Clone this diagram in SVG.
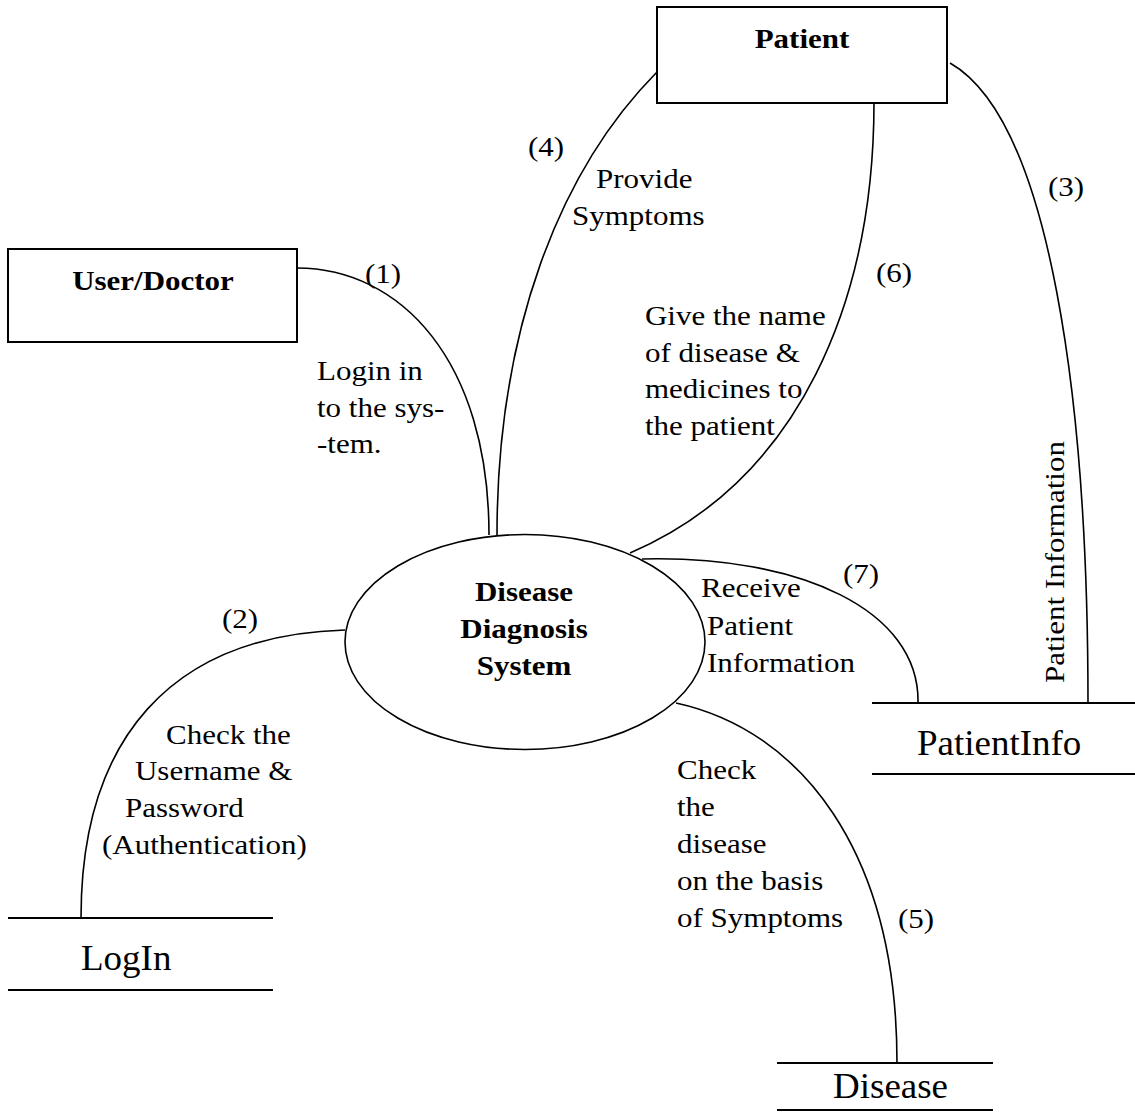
<svg xmlns="http://www.w3.org/2000/svg" width="1135" height="1112" viewBox="0 0 1135 1112">
<style>
text{font-family:"Liberation Serif","Times New Roman",serif;fill:#000}
.lbl{font-size:31px}
.bold{font-size:31px;font-weight:bold}
.store{font-size:37px}
.ent{fill:#fff;stroke:#000;stroke-width:2}
.proc{fill:#fff;stroke:#000;stroke-width:1.6}
.sl{stroke:#000;stroke-width:2}
.flow{fill:none;stroke:#000;stroke-width:1.6}
</style>
<rect width="1135" height="1112" fill="#fff"/>
<g id="connectors">
<path class="flow" d="M297,268 C400,268 489,360 489,535"/>
<path class="flow" d="M657,72 C560,170 497,330 497,535"/>
<path class="flow" d="M950,63 C1050,120 1088,400 1088,703"/>
<path class="flow" d="M874,102 C874,300 800,480 630,553"/>
<path class="flow" d="M642,559 C800,555 920,610 918,703"/>
<path class="flow" d="M345,630 C170,635 81,740 81,918"/>
<path class="flow" d="M676,703 C800,730 897,850 897,1063"/>
<text class="lbl" transform="translate(365 283) scale(1 0.89)">(1)</text>
<text class="lbl" transform="translate(317 380) scale(1 0.89)">Login in</text>
<text class="lbl" transform="translate(317 417) scale(1 0.89)">to the sys-</text>
<text class="lbl" transform="translate(317 453) scale(1 0.89)">-tem.</text>
<text class="lbl" transform="translate(528 156) scale(1 0.89)">(4)</text>
<text class="lbl" transform="translate(596 188) scale(1 0.89)">Provide</text>
<text class="lbl" transform="translate(572 225) scale(1 0.89)">Symptoms</text>
<text class="lbl" transform="translate(1048 196) scale(1 0.89)">(3)</text>
<text class="lbl" transform="translate(1064 562) rotate(-90) scale(1 0.89)" text-anchor="middle">Patient Information</text>
<text class="lbl" transform="translate(876 282) scale(1 0.89)">(6)</text>
<text class="lbl" transform="translate(645 325) scale(1 0.89)">Give the name</text>
<text class="lbl" transform="translate(645 362) scale(1 0.89)">of disease &amp;</text>
<text class="lbl" transform="translate(645 398) scale(1 0.89)">medicines to</text>
<text class="lbl" transform="translate(645 435) scale(1 0.89)">the patient</text>
<text class="lbl" transform="translate(843 583) scale(1 0.89)">(7)</text>
<text class="lbl" transform="translate(701 597) scale(1 0.89)">Receive</text>
<text class="lbl" transform="translate(707 635) scale(1 0.89)">Patient</text>
<text class="lbl" transform="translate(707 672) scale(1 0.89)">Information</text>
<text class="lbl" transform="translate(222 628) scale(1 0.89)">(2)</text>
<text class="lbl" transform="translate(166 744) scale(1 0.89)">Check the</text>
<text class="lbl" transform="translate(135 780) scale(1 0.89)">Username &amp;</text>
<text class="lbl" transform="translate(125 817) scale(1 0.89)">Password</text>
<text class="lbl" transform="translate(102 854) scale(1 0.89)">(Authentication)</text>
<text class="lbl" transform="translate(677 779) scale(1 0.89)">Check</text>
<text class="lbl" transform="translate(677 816) scale(1 0.89)">the</text>
<text class="lbl" transform="translate(677 853) scale(1 0.89)">disease</text>
<text class="lbl" transform="translate(677 890) scale(1 0.89)">on the basis</text>
<text class="lbl" transform="translate(677 927) scale(1 0.89)">of Symptoms</text>
<text class="lbl" transform="translate(898 928) scale(1 0.89)">(5)</text>
</g>
<g id="user-doctor">
<rect class="ent" x="8" y="249" width="289" height="93"/>
<text class="bold" transform="translate(153 290) scale(1 0.89)" text-anchor="middle">User/Doctor</text>
</g>
<g id="patient">
<rect class="ent" x="657" y="7" width="290" height="96"/>
<text class="bold" transform="translate(802 48) scale(1 0.89)" text-anchor="middle">Patient</text>
</g>
<g id="system">
<ellipse class="proc" cx="525" cy="642" rx="180" ry="107.5"/>
<text class="bold" transform="translate(524 601) scale(1 0.89)" text-anchor="middle">Disease</text>
<text class="bold" transform="translate(524 638) scale(1 0.89)" text-anchor="middle">Diagnosis</text>
<text class="bold" transform="translate(524 675) scale(1 0.89)" text-anchor="middle">System</text>
</g>
<g id="login">
<line class="sl" x1="8" y1="918" x2="273" y2="918"/>
<line class="sl" x1="8" y1="990" x2="273" y2="990"/>
<text class="store" transform="translate(81 970) scale(1 0.95)">LogIn</text>
</g>
<g id="patientinfo">
<line class="sl" x1="872" y1="703" x2="1135" y2="703"/>
<line class="sl" x1="872" y1="774" x2="1135" y2="774"/>
<text class="store" transform="translate(917 755) scale(1 0.95)">PatientInfo</text>
</g>
<g id="disease">
<line class="sl" x1="777" y1="1063" x2="993" y2="1063"/>
<line class="sl" x1="777" y1="1110" x2="993" y2="1110"/>
<text class="store" transform="translate(833 1098) scale(1 0.95)">Disease</text>
</g>
</svg>
